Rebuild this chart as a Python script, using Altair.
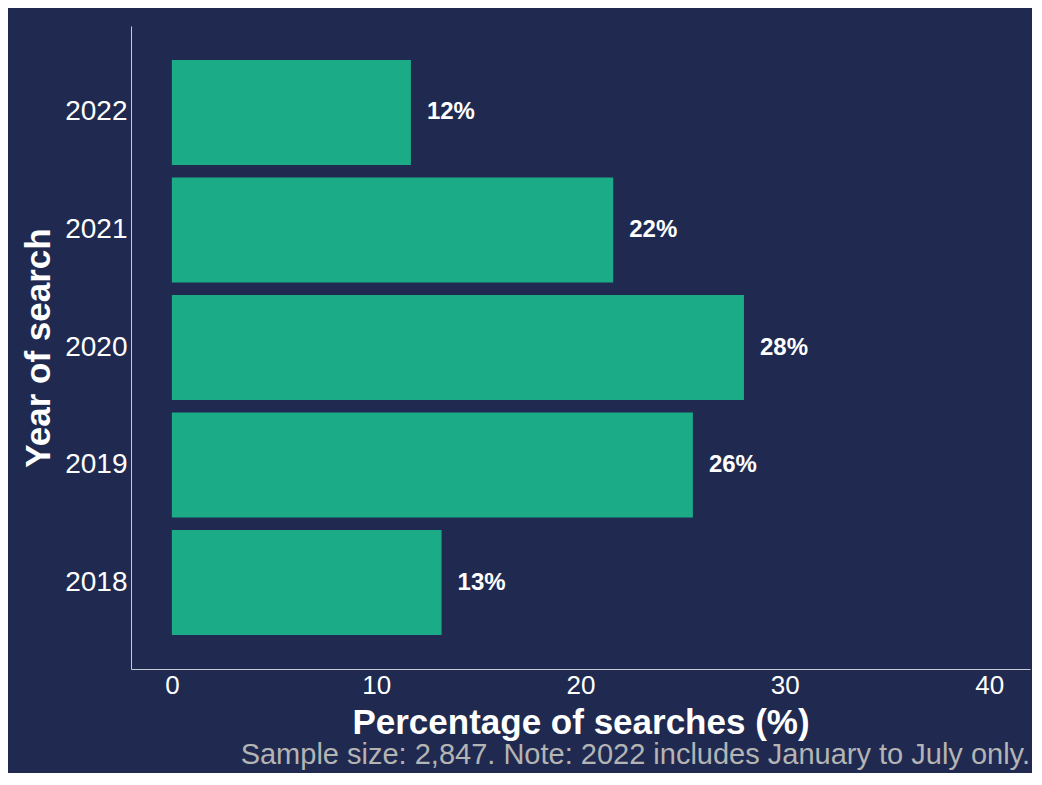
import altair as alt
import pandas as pd

years = ["2018", "2019", "2020", "2021", "2022"]
values = [13.2, 25.5, 28.0, 21.6, 11.7]
labels = ["13%", "26%", "28%", "22%", "12%"]

df = pd.DataFrame({"year": years, "value": values, "label": labels})

BG = "#202a50"
BAR = "#1bab87"
AXIS = "#c8cad4"
FONT = "Liberation Sans"

y = alt.Y(
    "year:N",
    sort="descending",
    title="Year of search",
    scale=alt.Scale(paddingInner=0.106, paddingOuter=0.289),
    axis=alt.Axis(
        ticks=False, labelFontSize=28, labelColor="white", labelPadding=4,
        titleFontSize=35, titleColor="white", titleFontWeight="bold", titlePadding=8,
        domainColor=AXIS, domainWidth=1, grid=False,
    ),
)
x = alt.X(
    "value:Q",
    title="Percentage of searches (%)",
    scale=alt.Scale(domain=[-2, 42], nice=False, zero=False),
    axis=alt.Axis(
        values=[0, 10, 20, 30, 40], ticks=False, labelFontSize=26, labelColor="white",
        labelPadding=3, titleFontSize=35, titleColor="white", titleFontWeight="bold",
        titlePadding=7, domainColor=AXIS, domainWidth=1, grid=False,
    ),
)

bars = alt.Chart(df).mark_bar(color=BAR).encode(x=x, x2=alt.datum(0), y=y)
text = alt.Chart(df).mark_text(
    align="left", baseline="middle", dx=16, fontSize=24, fontWeight="bold",
    color="white", font=FONT,
).encode(x="value:Q", y=alt.Y("year:N", sort="descending"), text="label:N")

chart = (
    alt.layer(bars, text)
    .properties(
        width=899,
        height=643,
        background=BG,
        autosize=alt.AutoSizeParams(type="none"),
        padding={"left": 123, "top": 18, "right": 2, "bottom": 104},
        title=alt.TitleParams(
            text="Sample size: 2,847. Note: 2022 includes January to July only.",
            orient="bottom", anchor="end", fontSize=29, fontWeight="normal",
            color="#b4b4b4", font=FONT, offset=1,
        ),
    )
    .configure_axis(labelFont=FONT, titleFont=FONT)
    .configure_view(stroke=None)
)

chart.save("out.html", embed_options={"renderer": "svg", "actions": False})
